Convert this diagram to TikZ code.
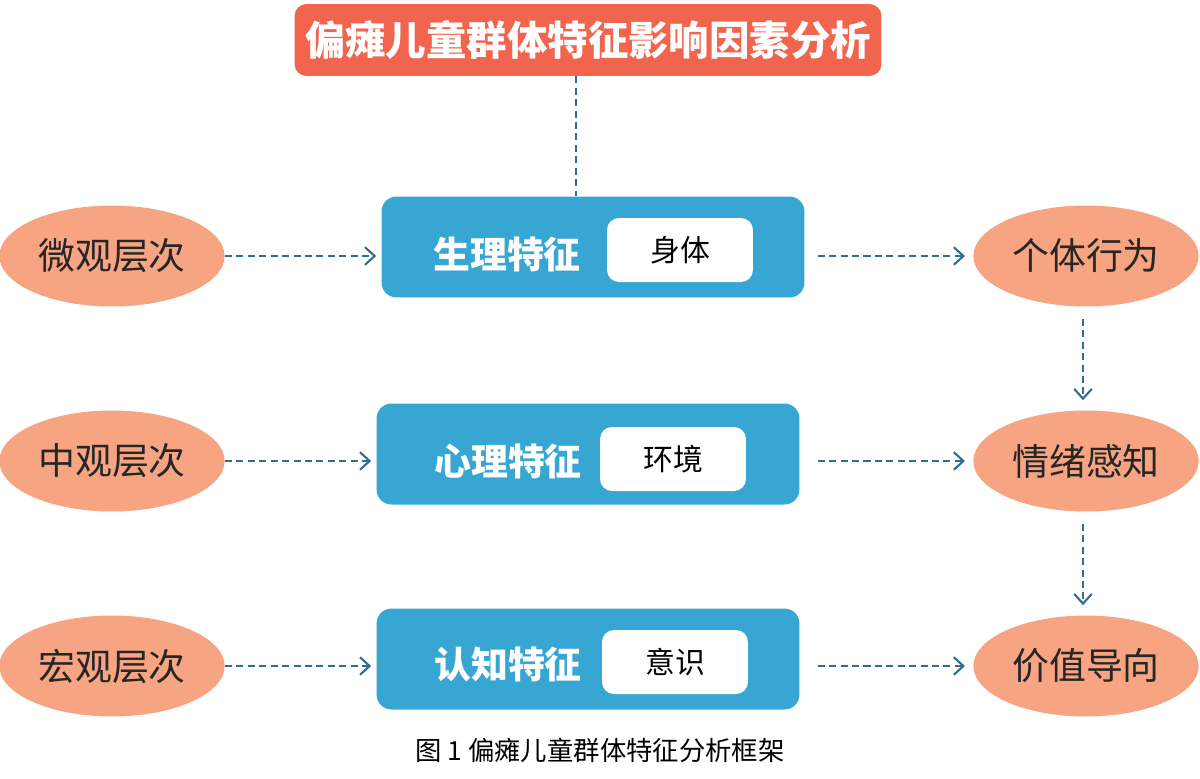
\documentclass[tikz,border=0pt]{standalone}
\usepackage{fontspec}
\setmainfont{Noto Sans CJK SC}
\usetikzlibrary{arrows.meta,shapes.geometric}
\definecolor{titlered}{HTML}{F1654E}
\definecolor{boxblue}{HTML}{38A6D3}
\definecolor{ovalpeach}{HTML}{F7A482}
\definecolor{linkblue}{HTML}{2F6E93}
\begin{document}
\begin{tikzpicture}[x=0.02cm,y=-0.02cm,
  oval/.style={ellipse, fill=ovalpeach, minimum width=4.4cm, minimum height=2.02cm, text=black!85, font=\fontsize{21}{24}\selectfont},
  bluebox/.style={rounded corners=0.3cm, fill=boxblue, minimum width=8.46cm, minimum height=2.02cm},
  whitebox/.style={rounded corners=0.24cm, fill=white, minimum width=2.92cm, minimum height=1.28cm, font=\fontsize{17}{20}\selectfont},
  bluetext/.style={text=white, font=\bfseries\fontsize{21}{24}\selectfont},
  link/.style={draw=linkblue, line width=1.2pt, dash pattern=on 4pt off 2.5pt, -{Straight Barb[length=5.5pt,width=10pt,line width=1.2pt]}}]
\useasboundingbox (0,0) rectangle (1200,778);
\node[rounded corners=0.24cm, fill=titlered, minimum width=11.74cm, minimum height=1.44cm, inner xsep=0pt, text=white, font=\bfseries\fontsize{23}{26}\selectfont] (title) at (588,40) {偏瘫儿童群体特征影响因素分析};
% middle column
\node[bluebox] (b1) at (593,247) {};
\node[bluebox] (b2) at (588,454) {};
\node[bluebox] (b3) at (588,659) {};
\node[bluetext] (t1) at (507,254) {生理特征};
\node[bluetext] (t2) at (508,461) {心理特征};
\node[bluetext] (t3) at (508,664) {认知特征};
\node[whitebox] (w1) at (680,250) {身体};
\node[whitebox] (w2) at (673,459) {环境};
\node[whitebox] (w3) at (675,662) {意识};
% left and right ovals
\node[oval] (l1) at (112,256) {微观层次};
\node[oval] (l2) at (112,461) {中观层次};
\node[oval] (l3) at (112,666) {宏观层次};
\node[oval] (r1) at (1086,256) {个体行为};
\node[oval] (r2) at (1086,461) {情绪感知};
\node[oval] (r3) at (1086,666) {价值导向};
\draw[draw=linkblue, line width=1.2pt, dash pattern=on 4pt off 2.5pt] ([xshift=-0.24cm]title.south) -- ([xshift=-0.24cm]title.south |- b1.north);
\draw[link, shorten <=0cm, shorten >=0.1cm] (l1.east) -- (b1.west |- l1.east);
\draw[link, shorten <=0cm, shorten >=0.1cm] (l2.east) -- (b2.west |- l2.east);
\draw[link, shorten <=0cm, shorten >=0.1cm] (l3.east) -- (b3.west |- l3.east);
\draw[link, shorten <=0.26cm, shorten >=0.16cm] (b1.east |- r1.west) -- (r1.west);
\draw[link, shorten <=0.36cm, shorten >=0.16cm] (b2.east |- r2.west) -- (r2.west);
\draw[link, shorten <=0.36cm, shorten >=0.16cm] (b3.east |- r3.west) -- (r3.west);
\draw[link, shorten <=0.24cm, shorten >=0.2cm] ([xshift=-0.06cm]r1.south) -- ([xshift=-0.06cm]r2.north);
\draw[link, shorten <=0.24cm, shorten >=0.2cm] ([xshift=-0.06cm]r2.south) -- ([xshift=-0.06cm]r3.north);
\node[font=\fontsize{15}{18}\selectfont] (cap) at (600,750) {图 1 偏瘫儿童群体特征分析框架};
\end{tikzpicture}
\end{document}
